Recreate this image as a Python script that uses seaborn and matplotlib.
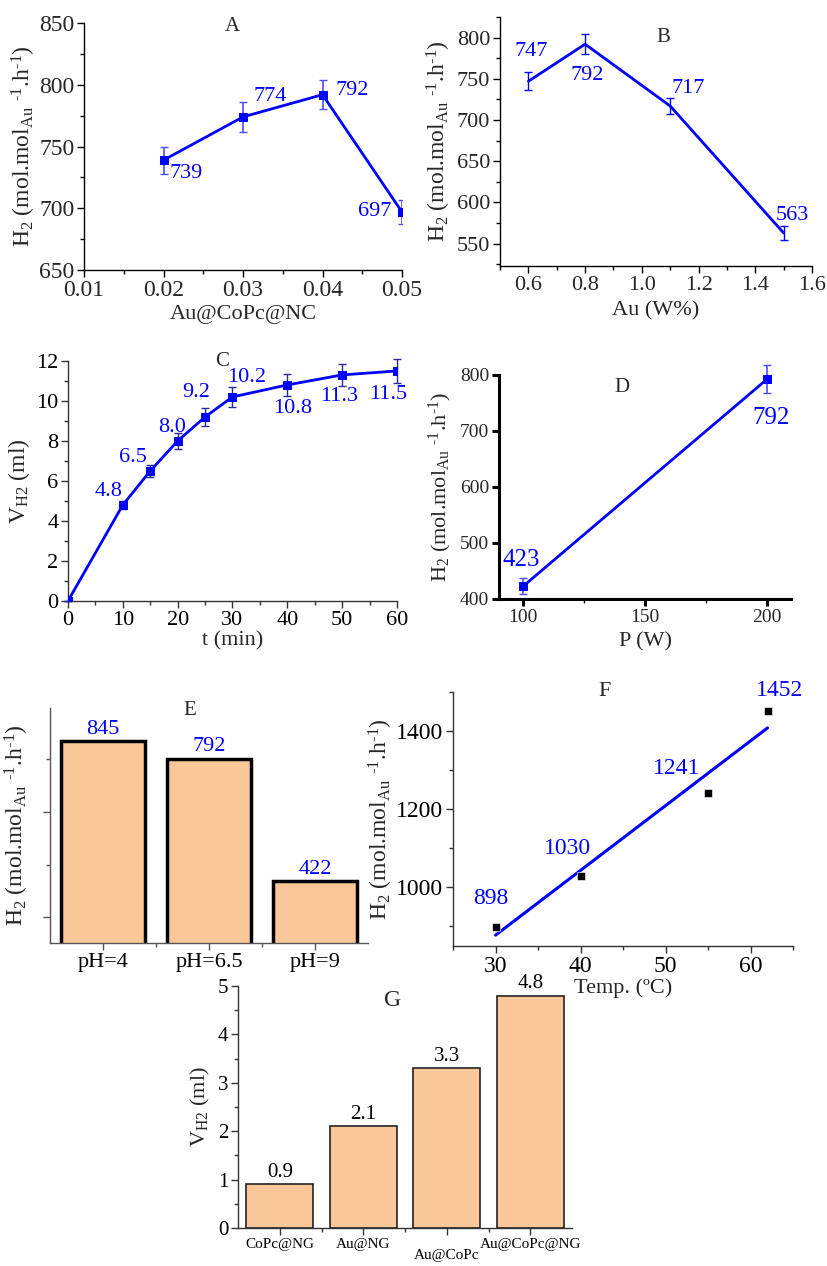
import matplotlib
matplotlib.use("Agg")
import matplotlib.pyplot as plt
import seaborn as sns
from matplotlib.ticker import MultipleLocator, NullFormatter

# ---- Data ---- #
# A: catalyst amount
a_x = [0.02, 0.03, 0.04, 0.05]
a_y = [739, 774, 792, 697]
a_err = [11, 12, 12, 10]

# B: Au loading
b_x = [0.6, 0.8, 1.1, 1.5]
b_y = [747, 792, 717, 563]
b_err = [11, 12, 10, 8]

# C: time course
c_t = [0, 10, 15, 20, 25, 30, 40, 50, 60]
c_v = [0, 4.8, 6.5, 8.0, 9.2, 10.2, 10.8, 11.3, 11.5]
c_err = [0, 0.2, 0.3, 0.4, 0.45, 0.5, 0.55, 0.55, 0.6]
c_labels = ["0", "4.8", "6.5", "8.0", "9.2", "10.2", "10.8", "11.3", "11.5"]

# D: power
d_p = [100, 200]
d_y = [423, 792]
d_err = [14, 25]

# E: pH
e_ph = ["pH=4", "pH=6.5", "pH=9"]
e_y = [845, 792, 422]

# F: temperature
f_t = [30, 40, 55, 62]
f_y = [898, 1030, 1241, 1452]

# G: catalysts
g_cat = ["CoPc@NG", "Au@NG", "Au@CoPc", "Au@CoPc@NG"]
g_v = [0.9, 2.1, 3.3, 4.8]

sns.set_style("ticks")
plt.rcParams["font.family"] = ["Liberation Serif", "DejaVu Serif"]
plt.rcParams["mathtext.fontset"] = "custom"
plt.rcParams["mathtext.rm"] = "Liberation Serif"
plt.rcParams["mathtext.it"] = "Liberation Serif:italic"
plt.rcParams["xtick.direction"] = "out"
plt.rcParams["ytick.direction"] = "out"

blue = "#0000ff"
peach = "#fac898"
h2_label = r"H$_2$ (mol.mol$_{\rm Au}$ $^{\text{-}1}$.h$^{\text{-}1}$)"
vh2_label = r"V$_{\rm H2}$ (ml)"


def style_axis(ax, fs, lw=1.0, color="black"):
    for side in ["top", "right"]:
        ax.spines[side].set_visible(False)
    for side in ["left", "bottom"]:
        ax.spines[side].set_linewidth(lw)
        ax.spines[side].set_color(color)
    ax.tick_params(which="major", length=5, width=lw, labelsize=fs, color=color, pad=2)
    ax.tick_params(which="minor", length=3, width=lw, color=color)


def label_points(ax, xs, ys, texts, offsets, fs, color=blue):
    for x, y, t, off in zip(xs, ys, texts, offsets):
        ax.annotate(t, (x, y), xytext=off, textcoords="offset pixels",
                    ha="center", va="center", color=color, fontsize=fs)


fig = plt.figure(figsize=(8.27, 12.66), dpi=100)

# ---- A ---- #
ax = fig.add_axes([0.1016, 0.7867, 0.3845, 0.1951])
sns.lineplot(x=a_x, y=a_y, color=blue, lw=2, marker="s", markersize=6,
             markeredgecolor=blue, ax=ax, zorder=3)
ax.errorbar(a_x, a_y, yerr=a_err, fmt="none", ecolor="#4d4dff", elinewidth=1.2,
            capsize=3, zorder=2)
ax.set_xlim(0.01, 0.05)
ax.set_ylim(650, 850)
ax.set_xticks([0.01, 0.02, 0.03, 0.04, 0.05])
ax.xaxis.set_minor_locator(MultipleLocator(0.005))
ax.yaxis.set_minor_locator(MultipleLocator(25))
style_axis(ax, 17)
ax.set_xlabel("Au@CoPc@NC", fontsize=16, labelpad=3)
ax.set_ylabel(h2_label, fontsize=17, labelpad=1)
ax.text(0.465, 0.984, "A", transform=ax.transAxes, ha="center", va="center", fontsize=15)
label_points(ax, a_x, a_y, [str(v) for v in a_y],
             [(23, -13), (27, 20), (30, 4), (-27, 0)], 16)

# ---- B ---- #
ax = fig.add_axes([0.6046, 0.7899, 0.3773, 0.1967])
sns.lineplot(x=b_x, y=b_y, color=blue, lw=2, ax=ax, zorder=3)
ax.errorbar(b_x, b_y, yerr=b_err, fmt="none", ecolor=blue, elinewidth=1.0,
            capsize=3, zorder=2)
ax.set_xlim(0.5, 1.6)
ax.set_ylim(523, 825)
ax.set_xticks([0.6, 0.8, 1.0, 1.2, 1.4, 1.6])
ax.set_yticks([550, 600, 650, 700, 750, 800])
ax.xaxis.set_minor_locator(MultipleLocator(0.1))
ax.yaxis.set_minor_locator(MultipleLocator(25))
style_axis(ax, 16)
ax.set_xlabel("Au (W%)", fontsize=16, labelpad=5)
ax.set_ylabel(h2_label, fontsize=17, labelpad=3)
ax.text(0.522, 0.916, "B", transform=ax.transAxes, ha="center", va="center", fontsize=15)
label_points(ax, b_x, b_y, [str(v) for v in b_y],
             [(3, 30), (2, -31), (18, 18), (9, 18)], 16)

# ---- C ---- #
ax = fig.add_axes([0.0822, 0.5253, 0.3978, 0.1896])
sns.lineplot(x=c_t, y=c_v, color=blue, lw=2, marker="s", markersize=6,
             markeredgecolor=blue, ax=ax, zorder=3)
ax.errorbar(c_t, c_v, yerr=c_err, fmt="none", ecolor="#2a2a9a", elinewidth=1.0,
            capsize=3, zorder=2, clip_on=False)
ax.set_xlim(0, 60)
ax.set_ylim(0, 12)
ax.set_xticks([0, 10, 20, 30, 40, 50, 60])
ax.set_yticks([0, 2, 4, 6, 8, 10, 12])
ax.xaxis.set_minor_locator(MultipleLocator(5))
ax.yaxis.set_minor_locator(MultipleLocator(1))
style_axis(ax, 16, color="#333333")
ax.tick_params(labelcolor="black")
ax.set_xlabel("t (min)", fontsize=16, labelpad=1)
ax.set_ylabel(vh2_label, fontsize=17, labelpad=3)
ax.text(0.468, 0.996, "C", transform=ax.transAxes, ha="center", va="center", fontsize=15)
label_points(ax, c_t[1:], c_v[1:], c_labels[1:],
             [(-14, 13), (-17, 13), (-6, 13), (-9, 24), (14, 19),
              (5, -24), (-3, -22), (-9, -24)], 16)

# ---- D ---- #
ax = fig.add_axes([0.6034, 0.5269, 0.3531, 0.1769])
sns.lineplot(x=d_p, y=d_y, color=blue, lw=2, marker="s", markersize=6,
             markeredgecolor=blue, ax=ax, zorder=3)
ax.errorbar(d_p, d_y, yerr=d_err, fmt="none", ecolor="#4d4dff", elinewidth=1.2,
            capsize=3, zorder=2, clip_on=False)
ax.set_xlim(90, 210)
ax.set_ylim(400, 800)
ax.set_xticks([100, 150, 200])
ax.set_yticks([400, 500, 600, 700, 800])
ax.xaxis.set_minor_locator(MultipleLocator(25))
style_axis(ax, 14, lw=2.2)
ax.tick_params(which="minor", width=1)
ax.set_xlabel("P (W)", fontsize=16, labelpad=5)
ax.set_ylabel(h2_label, fontsize=16, labelpad=4)
ax.text(0.421, 0.946, "D", transform=ax.transAxes, ha="center", va="center", fontsize=15)
label_points(ax, d_p, d_y, [str(v) for v in d_y], [(-2, 26), (4, -39)], 18)

# ---- E ---- #
ax = fig.add_axes([0.0605, 0.2551, 0.3845, 0.1856])
sns.barplot(x=e_ph, y=e_y, color=peach, edgecolor="black", linewidth=2.5,
            saturation=1, width=0.8, ax=ax)
ax.set_xlim(-0.5, 2.5)
ax.set_ylim(235, 945)
ax.set_yticks([313, 631])
ax.set_yticks([471, 791], minor=True)
ax.yaxis.set_major_formatter(NullFormatter())
ax.set_xticks([0.5, 1.5], minor=True)
style_axis(ax, 16, color="#555555")
ax.tick_params(axis="x", labelcolor="black")
ax.set_xlabel("")
ax.set_ylabel(h2_label, fontsize=17, labelpad=7)
ax.text(0.44, 0.991, "E", transform=ax.transAxes, ha="center", va="center", fontsize=15)
label_points(ax, range(len(e_y)), e_y, [str(v) for v in e_y],
             [(0, 12)] * len(e_y), 16)

# ---- F ---- #
ax = fig.add_axes([0.5478, 0.2528, 0.4111, 0.2006])
sns.regplot(x=f_t, y=f_y, ci=None, scatter=False, truncate=True,
            line_kws=dict(color=blue, lw=2.2), ax=ax)
sns.scatterplot(x=f_t, y=f_y, marker="s", color="black", s=28, ax=ax, zorder=3)
ax.set_xlim(25, 65)
ax.set_ylim(850, 1500)
ax.set_xticks([30, 40, 50, 60])
ax.set_yticks([1000, 1200, 1400])
ax.xaxis.set_minor_locator(MultipleLocator(5))
ax.yaxis.set_minor_locator(MultipleLocator(100))
style_axis(ax, 17, color="#333333")
ax.tick_params(labelcolor="black")
ax.set_xlabel("Temp. (ºC)", fontsize=16, labelpad=1)
ax.set_ylabel(h2_label, fontsize=17, labelpad=1)
ax.text(0.447, 1.0, "F", transform=ax.transAxes, ha="center", va="center", fontsize=16)
label_points(ax, f_t, f_y, [str(v) for v in f_y],
             [(-5, 29), (-13, 27), (-31, 25), (12, 20)], 17)

# ---- G ---- #
ax = fig.add_axes([0.2878, 0.0300, 0.4039, 0.1912])
sns.barplot(x=g_cat, y=g_v, color=peach, edgecolor="#222222", linewidth=1.2,
            saturation=1, width=0.8, ax=ax)
ax.set_xlim(-0.5, 3.5)
ax.set_ylim(0, 5)
ax.yaxis.set_minor_locator(MultipleLocator(0.5))
ax.set_xticks(range(len(g_cat)))
ax.set_xticklabels([("\n" + c) if i == 2 else c for i, c in enumerate(g_cat)],
                   linespacing=0.85)
ax.set_xticks([0.5, 1.5, 2.5], minor=True)
style_axis(ax, 15, color="#333333")
ax.tick_params(axis="x", labelsize=11, labelcolor="black")
ax.tick_params(axis="y", labelcolor="black")
ax.set_xlabel("")
ax.set_ylabel(vh2_label, fontsize=16, labelpad=4)
ax.text(0.464, 0.942, "G", transform=ax.transAxes, ha="center", va="center", fontsize=17)
label_points(ax, range(len(g_v)), g_v, [str(v) for v in g_v],
             [(0, 12)] * len(g_v), 15, color="black")

plt.savefig("out.png", dpi=100)
